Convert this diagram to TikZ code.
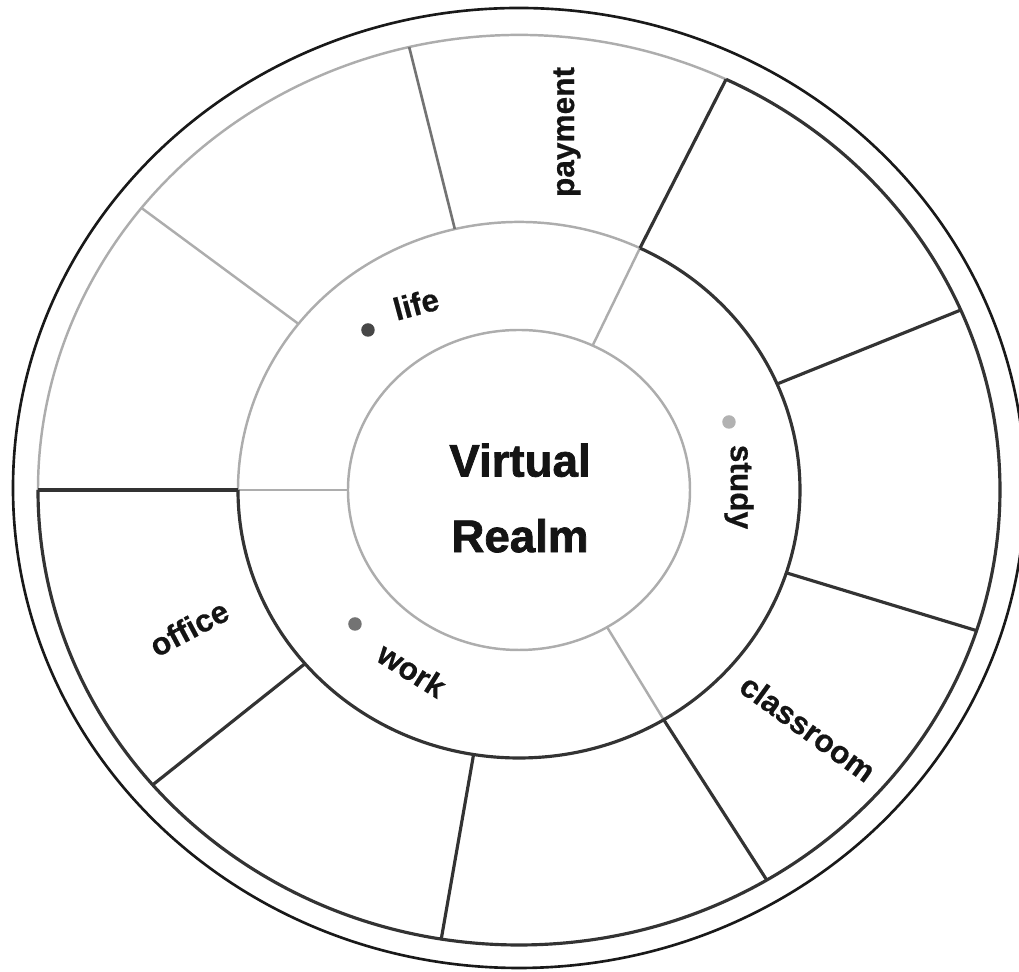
\documentclass[tikz,border=0pt]{standalone}
\usepackage{fontspec}
\setmainfont{Liberation Sans}
\newfontfamily\realmfont[FakeBold=1.6]{Liberation Sans Bold}
\newfontfamily\labelfont[FakeBold=0.5]{Liberation Sans Bold}

\tikzset{
  darkline/.style={draw=black!80, line width=1.8pt},
  midline/.style={draw=black!55, line width=1.5pt},
  paleline/.style={draw=black!32, line width=1.4pt},
  rimline/.style={draw=black!90, line width=1.5pt},
  ringlabel/.style={font=\labelfont\fontsize{18}{20}\selectfont, text=black!92, inner sep=0pt},
  spot/.style={circle, inner sep=0pt, minimum size=0.27cm},
}

\begin{document}
\begin{tikzpicture}[x=0.02cm, y=0.02cm]
  \useasboundingbox (-519,-482) rectangle (500,490);

  \newcommand{\storeSpoke}[2]{
    \coordinate (#1in) at (#2:281 and 268);
    \coordinate (#1out) at (#2:481 and 455);
  }
  \newcommand{\storeCore}[2]{
    \coordinate (#1core) at (#2:171 and 160);
    \coordinate (#1mid) at (#2:281 and 268);
  }

  \storeSpoke{west}{180}
  \storeSpoke{nwest}{141.7}
  \storeSpoke{north}{103.2}
  \storeSpoke{neast}{64.5}
  \storeSpoke{east}{23.3}
  \storeSpoke{eside}{-18}
  \storeSpoke{seast}{-59}
  \storeSpoke{south}{-99.3}
  \storeSpoke{swest}{-139.6}

  \storeCore{life}{180}
  \storeCore{study}{64.5}
  \storeCore{work}{-59}

  \draw[rimline] (0,2) ellipse [x radius=506, y radius=480];

  \draw[paleline] (neastout) arc [start angle=64.5, end angle=180, x radius=481, y radius=455];
  \draw[paleline] (neastin) arc [start angle=64.5, end angle=180, x radius=281, y radius=268];
  \draw[paleline] (0,0) ellipse [x radius=171, y radius=160];

  \draw[paleline] (lifecore) -- (lifemid);
  \draw[paleline] (studycore) -- (studymid);
  \draw[paleline] (workcore) -- (workmid);

  \draw[paleline] (nwestin) -- (nwestout);
  \draw[midline] (northin) -- (northout);

  \draw[darkline] (westout) arc [start angle=-180, end angle=64.5, x radius=481, y radius=455];
  \draw[darkline] (westin) arc [start angle=-180, end angle=64.5, x radius=281, y radius=268];

  \draw[darkline] (westin) -- (westout);
  \draw[darkline] (neastin) -- (neastout);
  \draw[darkline] (eastin) -- (eastout);
  \draw[darkline] (esidein) -- (esideout);
  \draw[darkline] (seastin) -- (seastout);
  \draw[darkline] (southin) -- (southout);
  \draw[darkline] (swestin) -- (swestout);

  \node[spot, fill=black!72] (lifedot) at (-151,160) {};
  \node[spot, fill=black!30] (studydot) at (210,68) {};
  \node[spot, fill=black!55] (workdot) at (-164,-134) {};

  \node[ringlabel, rotate=15] (life) at (-103,186) {life};
  \node[ringlabel, rotate=90] (payment) at (48,358) {payment};
  \node[ringlabel, rotate=-90] (study) at (220,3) {study};
  \node[ringlabel, rotate=28] (office) at (-330,-138) {office};
  \node[ringlabel, rotate=-32] (work) at (-107,-180) {work};
  \node[ringlabel, rotate=-36] (classroom) at (289,-238) {classroom};

  \node[font=\realmfont\fontsize{26}{43}\selectfont, text=black!92, align=center] (realm) at (1,-8) {Virtual\\Realm};
\end{tikzpicture}
\end{document}
